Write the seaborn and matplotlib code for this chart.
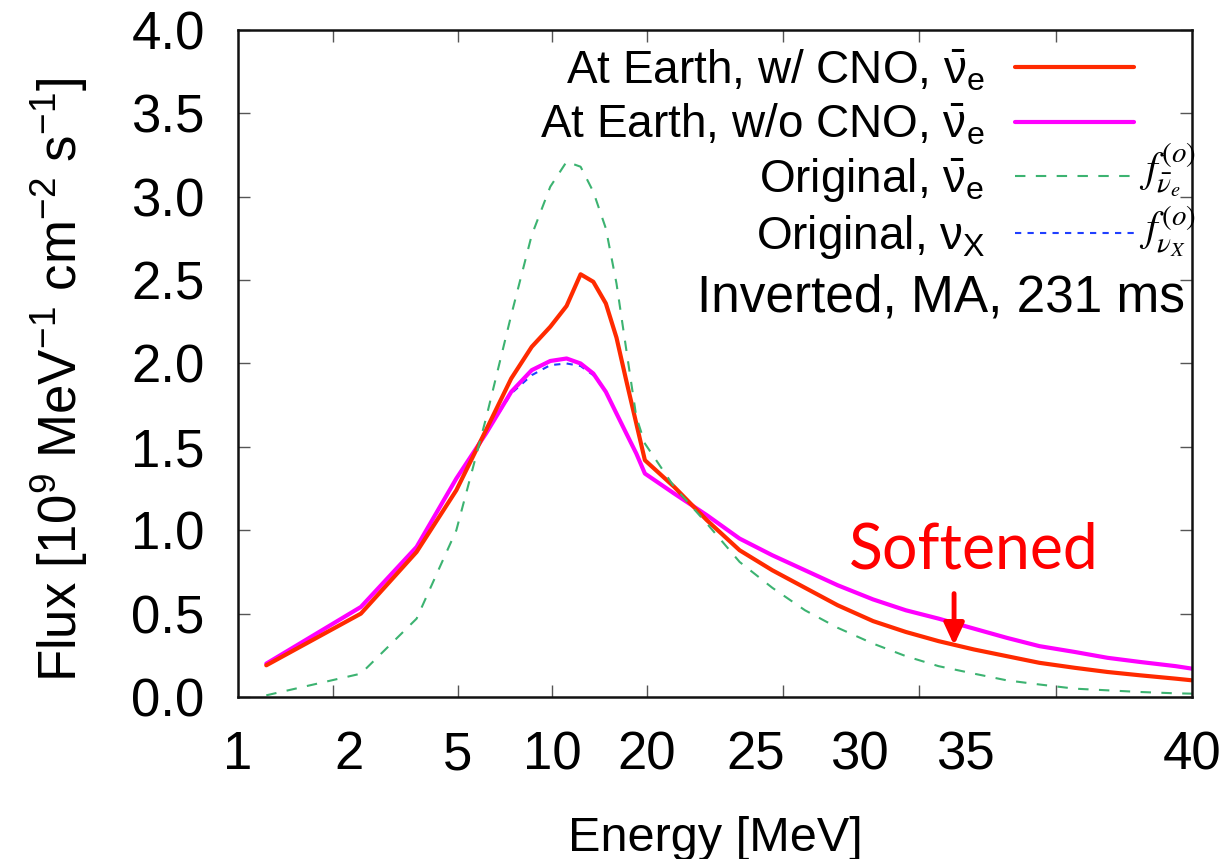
import numpy as np
import matplotlib
matplotlib.use("Agg")
import matplotlib.pyplot as plt
import seaborn as sns

# energy grid (MeV)
energy = [1.23, 2.46, 3.7, 4.95, 6.15, 7.4, 8.6, 9.85, 11.1, 12.3, 13.5, 14.8,
          16.0, 17.2, 18.5, 19.7, 21.0, 22.2, 23.4, 24.6, 25.8, 27.0, 28.3,
          29.5, 30.7, 32.0, 33.2, 34.4, 35.7, 36.9, 38.1, 39.4, 40.0]

# At Earth, w/ CNO (red)
flux_cno = [0.19, 0.50, 0.87, 1.24, 1.60, 1.91, 2.10, 2.22, 2.345, 2.535, 2.49, 2.36,
            2.155, 1.895, 1.64, 1.42, 1.26, 1.06, 0.88, 0.76, 0.655, 0.55, 0.455,
            0.39, 0.335, 0.285, 0.245, 0.205, 0.175, 0.15, 0.13, 0.11, 0.10]

# At Earth, w/o CNO (magenta)
flux_nocno = [0.20, 0.54, 0.90, 1.31, 1.58, 1.83, 1.96, 2.015, 2.03, 2.00, 1.94, 1.83,
              1.70, 1.58, 1.46, 1.34, 1.22, 1.09, 0.95, 0.85, 0.76, 0.67, 0.585,
              0.52, 0.47, 0.41, 0.355, 0.305, 0.27, 0.235, 0.21, 0.185, 0.17]

# Original anti-nu_e (green dashed)
flux_orig_nue = [0.01, 0.14, 0.47, 1.00, 1.67, 2.29, 2.77, 3.06, 3.21, 3.18, 3.03, 2.81,
                 2.48, 2.08, 1.68, 1.52, 1.26, 1.04, 0.81, 0.655, 0.52, 0.415, 0.32,
                 0.245, 0.185, 0.14, 0.10, 0.075, 0.05, 0.04, 0.03, 0.022, 0.02]

# Original nu_x (blue dashed)
flux_orig_nux = [0.20, 0.54, 0.90, 1.31, 1.58, 1.82, 1.93, 1.99, 2.00, 1.985, 1.93, 1.83,
                 1.70, 1.58, 1.46, 1.34, 1.22, 1.09, 0.95, 0.85, 0.76, 0.67, 0.585,
                 0.52, 0.47, 0.41, 0.355, 0.305, 0.27, 0.235, 0.21, 0.185, 0.17]

xtick_marks = [2, 5, 10, 20, 25, 30, 35]
xtick_label_pos = [1, 2.25, 5, 10, 20, 24, 27.8, 31.7, 40]
xtick_labels = ["1", "2", "5", "10", "20", "25", "30", "35", "40"]
yticks = [0.0, 0.5, 1.0, 1.5, 2.0, 2.5, 3.0, 3.5, 4.0]

RED = "#ff2a00"
MAGENTA = "#ff00ff"
GREEN = "#3cb371"
BLUE = "#1f3fff"

# log axis up to 20 MeV, linear after that
BREAK = 20.0
K = 27.25 / 314.3


def fwd(x):
    x = np.asarray(x, dtype=float)
    with np.errstate(all="ignore"):
        lg = np.log10(np.clip(x, 1e-9, None))
    return np.where(x <= BREAK, lg, np.log10(BREAK) + (x - BREAK) * K)


def inv(u):
    u = np.asarray(u, dtype=float)
    u0 = np.log10(BREAK)
    with np.errstate(all="ignore"):
        return np.where(u <= u0, 10 ** np.clip(u, -30, 30), BREAK + (u - u0) / K)


sns.set_theme(style="ticks")
plt.rcParams["font.family"] = ["Liberation Sans", "DejaVu Sans"]
plt.rcParams["text.color"] = "black"
plt.rcParams["axes.labelcolor"] = "black"
plt.rcParams["xtick.labelcolor"] = "black"
plt.rcParams["ytick.labelcolor"] = "black"
plt.rcParams["mathtext.fontset"] = "custom"
plt.rcParams["mathtext.rm"] = "Liberation Sans"
plt.rcParams["mathtext.it"] = "Liberation Sans"
plt.rcParams["mathtext.bf"] = "Liberation Sans:bold"
plt.rcParams["mathtext.sf"] = "Liberation Sans"

fig = plt.figure(figsize=(12.32, 8.59), dpi=100)
ax = fig.add_axes([0.1932, 0.1886, 0.7743, 0.7765])

sns.lineplot(x=energy, y=flux_orig_nux, ax=ax, color=BLUE, lw=1.5,
             linestyle=(0, (3, 3)), estimator=None, sort=False)
h_blue = ax.lines[-1]
sns.lineplot(x=energy, y=flux_nocno, ax=ax, color=MAGENTA, lw=3.0,
             estimator=None, sort=False)
h_mag = ax.lines[-1]
sns.lineplot(x=energy, y=flux_cno, ax=ax, color=RED, lw=3.0,
             estimator=None, sort=False)
h_red = ax.lines[-1]
sns.lineplot(x=energy, y=flux_orig_nue, ax=ax, color=GREEN, lw=1.5,
             linestyle=(0, (5, 5)), estimator=None, sort=False)
h_green = ax.lines[-1]

ax.set_xscale("function", functions=(fwd, inv))
ax.set_xlim(1, 40)
ax.set_ylim(0, 4)

ax.xaxis.remove_overlapping_locs = False
ax.set_xticks(xtick_marks)
ax.set_xticklabels([""] * len(xtick_marks))
ax.set_xticks(xtick_label_pos, minor=True)
ax.set_xticklabels(xtick_labels, minor=True)
ax.set_yticks(yticks)
ax.set_yticklabels([f"{v:.1f}" for v in yticks])

ax.tick_params(which="major", direction="in", length=8.5, width=1.0,
               color="#555555", top=True, right=True, labelsize=38, pad=24)
ax.tick_params(which="minor", direction="in", length=0, top=False,
               labelsize=38, pad=24)
for s in ax.spines.values():
    s.set_linewidth(1.8)
    s.set_color("#111111")

ax.set_xlabel("Energy [MeV]", fontsize=35, labelpad=26)
ax.set_ylabel(r"Flux [10$^9$ MeV$^{-1}$ cm$^{-2}$ s$^{-1}$]", fontsize=38)
ax.yaxis.set_label_coords(-0.155, 0.475)

nue = r"$\bar{\nu}_\mathrm{e}$"
labels = ["At Earth, w/ CNO, " + nue, "At Earth, w/o CNO, " + nue,
          "Original, " + nue, r"Original, $\nu_\mathrm{X}$"]
ax.legend([h_red, h_mag, h_green, h_blue], labels, loc="upper right",
          bbox_to_anchor=(0.939, 0.973), frameon=False, markerfirst=False,
          fontsize=33, handlelength=2.6, handletextpad=0.65, labelspacing=0.19,
          borderpad=0, borderaxespad=0)

ax.text(0.945, 0.79, r"$f^{(o)}_{\bar{\nu}_e}$", transform=ax.transAxes,
        fontsize=30, math_fontfamily="stix", va="center", clip_on=False)
ax.text(0.945, 0.697, r"$f^{(o)}_{\nu_X}$", transform=ax.transAxes,
        fontsize=30, math_fontfamily="stix", va="center", clip_on=False)

ax.text(0.993, 0.598, "Inverted, MA, 231 ms", transform=ax.transAxes,
        fontsize=37, ha="right", va="center")

ax.text(32.0, 0.772, "Softened", color="#ff0000", fontsize=45,
        family=["Lato", "DejaVu Sans"], ha="center", va="baseline")
ax.annotate("", xy=(31.27, 0.31), xytext=(31.27, 0.62),
            arrowprops=dict(arrowstyle="-|>,head_length=0.65,head_width=0.3",
                            color="#ff0000", lw=3.5, mutation_scale=20,
                            shrinkA=0, shrinkB=0))

fig.savefig("out.png", dpi=100)
